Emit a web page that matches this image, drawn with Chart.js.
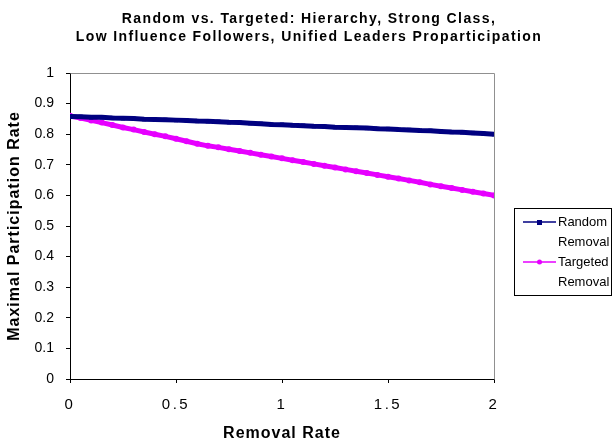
<!DOCTYPE html>
<html>
<head>
<meta charset="utf-8">
<title>Random vs. Targeted Removal</title>
<script src="https://cdn.jsdelivr.net/npm/chart.js@4.4.1/dist/chart.umd.min.js"></script>
<style>
  html, body { margin: 0; padding: 0; background: #ffffff; }
  #wrap { width: 613px; height: 444px; position: relative; }
  canvas { display: block; }
</style>
</head>
<body>
<div id="wrap"><canvas id="chart" width="613" height="444"></canvas></div>
<script>
// Removal rate (x) shared by both series
const removalRates = [
  0, 0.05, 0.1, 0.15, 0.2, 0.25, 0.3, 0.35, 0.4, 0.45,
  0.5, 0.55, 0.6, 0.65, 0.7, 0.75, 0.8, 0.85, 0.9, 0.95,
  1, 1.05, 1.1, 1.15, 1.2, 1.25, 1.3, 1.35, 1.4, 1.45,
  1.5, 1.55, 1.6, 1.65, 1.7, 1.75, 1.8, 1.85, 1.9, 1.95, 2
];

// Maximal participation rate under random removal
const randomRemoval = [
  0.858, 0.857, 0.855, 0.855, 0.853, 0.852, 0.851, 0.849, 0.848, 0.847,
  0.846, 0.845, 0.843, 0.842, 0.841, 0.839, 0.838, 0.836, 0.834, 0.832,
  0.831, 0.829, 0.828, 0.826, 0.825, 0.823, 0.822, 0.821, 0.820, 0.818,
  0.817, 0.815, 0.814, 0.812, 0.811, 0.809, 0.807, 0.806, 0.804, 0.802, 0.800
];

// Maximal participation rate under targeted removal
const targetedRemoval = [
  0.860, 0.853, 0.845, 0.838, 0.830, 0.822, 0.815, 0.807, 0.800, 0.793,
  0.785, 0.777, 0.769, 0.762, 0.757, 0.751, 0.745, 0.739, 0.733, 0.727,
  0.721, 0.715, 0.709, 0.703, 0.697, 0.691, 0.685, 0.679, 0.673, 0.667,
  0.661, 0.655, 0.649, 0.643, 0.636, 0.630, 0.624, 0.618, 0.612, 0.606, 0.600
];

const seriesNames = ['Random Removal', 'Targeted Removal'];
const seriesColors = ['#000080', '#e600ff'];
const seriesMarkers = ['rect', 'circle'];

const titleLines = [
  'Random vs. Targeted: Hierarchy, Strong Class,',
  'Low Influence Followers, Unified Leaders Proparticipation'
];
const xAxisTitle = 'Removal Rate';
const yAxisTitle = 'Maximal Participation Rate';

const xTickStep = 0.5;
const yTickStep = 0.1;

const FONT = '"Liberation Sans", Arial, Helvetica, sans-serif';

function pairs(xs, ys) {
  return xs.map((x, i) => ({ x: x, y: ys[i] }));
}

function tickText(v) {
  return String(+Number(v).toFixed(1));
}

// Two-line bold heading centred on the canvas
const headline = {
  id: 'headline',
  afterDraw(chart) {
    const { ctx } = chart;
    ctx.save();
    ctx.font = 'bold 14px ' + FONT;
    ctx.letterSpacing = '1.4px';
    ctx.fillStyle = '#000000';
    ctx.textAlign = 'center';
    ctx.textBaseline = 'alphabetic';
    titleLines.forEach((line, i) => ctx.fillText(line, 309, 23 + i * 18));
    ctx.restore();
  }
};

// Wider letter spacing for chosen scale labels and titles
const scaleTextSpacing = {
  id: 'scaleTextSpacing',
  beforeDraw(chart, args, opts) {
    Object.values(chart.scales).forEach(scale => {
      if (scale._spaced) return;
      const sp = opts[scale.id] || {};
      const wrap = (fnName, spacing) => {
        const orig = scale[fnName].bind(scale);
        scale[fnName] = function (...a) {
          const ctx = chart.ctx;
          const prev = ctx.letterSpacing;
          ctx.letterSpacing = spacing + 'px';
          orig(...a);
          ctx.letterSpacing = prev;
        };
      };
      if (sp.ticks) wrap('drawLabels', sp.ticks);
      if (sp.title) wrap('drawTitle', sp.title);
      scale._spaced = true;
    });
  }
};

// Top and right edges of the plot area
const plotFrame = {
  id: 'plotFrame',
  beforeDatasetsDraw(chart) {
    const { ctx, chartArea: a } = chart;
    ctx.save();
    ctx.strokeStyle = '#909090';
    ctx.lineWidth = 1;
    ctx.beginPath();
    ctx.moveTo(Math.round(a.left) + 0.5, Math.round(a.top) + 0.5);
    ctx.lineTo(Math.round(a.right) + 0.5, Math.round(a.top) + 0.5);
    ctx.lineTo(Math.round(a.right) + 0.5, Math.round(a.bottom) + 0.5);
    ctx.stroke();
    ctx.restore();
  }
};

// Boxed legend to the right of the plot, labels wrapped onto two lines
const boxedLegend = {
  id: 'boxedLegend',
  afterDraw(chart) {
    const { ctx } = chart;
    const box = { x: 514, y: 208, w: 98, h: 88 };
    ctx.save();
    ctx.letterSpacing = '0px';
    ctx.fillStyle = '#ffffff';
    ctx.fillRect(box.x, box.y, box.w, box.h);
    ctx.strokeStyle = '#000000';
    ctx.lineWidth = 1;
    ctx.strokeRect(box.x + 0.5, box.y + 0.5, box.w - 1, box.h - 1);
    ctx.font = '13px ' + FONT;
    ctx.textBaseline = 'middle';
    ctx.textAlign = 'left';
    chart.data.datasets.forEach((ds, i) => {
      const y0 = box.y + 14 + i * 40;
      ctx.strokeStyle = ds.borderColor;
      ctx.lineWidth = 1.5;
      ctx.beginPath();
      ctx.moveTo(523, y0);
      ctx.lineTo(556, y0);
      ctx.stroke();
      ctx.fillStyle = ds.borderColor;
      if (ds.pointStyle === 'rect') {
        ctx.fillRect(537, y0 - 2, 5, 5);
      } else {
        ctx.beginPath();
        ctx.arc(539.5, y0, 2.5, 0, Math.PI * 2);
        ctx.fill();
      }
      ctx.fillStyle = '#000000';
      const words = ds.label.split(' ');
      words.forEach((w, j) => ctx.fillText(w, 558, y0 + j * 20));
    });
    ctx.restore();
  }
};

new Chart(document.getElementById('chart'), {
  type: 'line',
  data: {
    datasets: seriesNames.map((name, i) => ({
      label: name,
      data: pairs(removalRates, i === 0 ? randomRemoval : targetedRemoval),
      borderColor: seriesColors[i],
      backgroundColor: seriesColors[i],
      borderWidth: 5,
      pointStyle: seriesMarkers[i],
      pointRadius: 3,
      pointBorderWidth: 0,
      pointHoverRadius: 3,
      tension: 0,
      fill: false
    }))
  },
  options: {
    responsive: false,
    animation: false,
    devicePixelRatio: 1,
    layout: { padding: { left: 0, right: 119, top: 73, bottom: 0 } },
    plugins: {
      legend: { display: false },
      tooltip: { enabled: false },
      title: { display: false },
      scaleTextSpacing: {
        x: { ticks: 2.5, title: 1 },
        y: { title: 1 }
      }
    },
    scales: {
      x: {
        type: 'linear',
        min: 0,
        max: 2,
        afterFit(s) { s.height = 65; },
        border: { display: true, color: '#000000', width: 1 },
        grid: { drawOnChartArea: false, drawTicks: true, tickLength: 4, color: '#000000' },
        ticks: {
          stepSize: xTickStep,
          color: '#000000',
          padding: 13,
          font: { family: FONT, size: 15 },
          callback: tickText
        },
        title: {
          display: true,
          text: xAxisTitle,
          color: '#000000',
          font: { family: FONT, size: 16, weight: 'bold' },
          padding: { top: 0, bottom: 1 }
        }
      },
      y: {
        type: 'linear',
        min: 0,
        max: 1,
        afterFit(s) { s.width = 70; },
        border: { display: true, color: '#000000', width: 1 },
        grid: { drawOnChartArea: false, drawTicks: true, tickLength: 4, color: '#000000' },
        ticks: {
          stepSize: yTickStep,
          color: '#000000',
          padding: 12,
          font: { family: FONT, size: 14 },
          callback: tickText
        },
        title: {
          display: true,
          text: yAxisTitle,
          color: '#000000',
          font: { family: FONT, size: 16, weight: 'bold' },
          padding: { top: 5, bottom: 0 }
        }
      }
    }
  },
  plugins: [scaleTextSpacing, plotFrame, headline, boxedLegend]
});
</script>
</body>
</html>
